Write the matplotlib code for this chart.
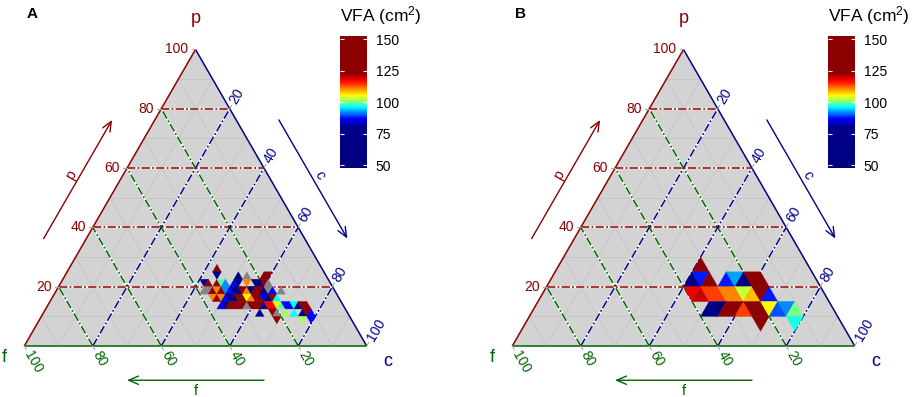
import numpy as np
import matplotlib
matplotlib.use('Agg')
import matplotlib.pyplot as plt
from matplotlib.collections import PolyCollection
from matplotlib.colors import LinearSegmentedColormap, Normalize
from matplotlib.cm import ScalarMappable

plt.rcParams['font.family'] = ['Liberation Sans', 'DejaVu Sans']
plt.rcParams['mathtext.default'] = 'regular'
plt.rcParams['lines.scale_dashes'] = False

# colour scale for VFA (cm2)
cb_values = [47.5, 80, 87, 91, 96, 100.5, 105, 111, 117, 123, 152.5]
cb_colours = ['#00007F', '#00008B', '#0000FF', '#0070FF', '#00FFFF', '#80FF80',
              '#FFFF00', '#FF8000', '#FF0000', '#8B0000', '#8B0000']
cb_ticks = [50, 75, 100, 125, 150]
axis_ticks = [20, 40, 60, 80, 100]
nan = np.nan

# panel A, bins of 2.5 units: row = p bin, step = half cell along the row (even = pointing up)
a_row = [10] * 1 + [9] * 5 + [8] * 12 + [7] * 18 + [6] * 16 + [5] * 21 + [4] * 8 + [3] * 3
a_step = [34,
          35, 40, 42, 46, 47,
          33, 34, 36, 37, 38, 40, 41, 43, 45, 46, 47, 48,
          34, 35, 36, 37, 38, 39, 40, 41, 42, 43, 44, 45, 46, 47, 48, 49, 50, 52,
          37, 38, 39, 40, 41, 42, 43, 44, 45, 46, 47, 48, 49, 50, 51, 52,
          40, 41, 42, 43, 44, 45, 46, 47, 48, 49, 50, 51, 52, 53, 54, 55, 56, 57, 58, 59, 60,
          50, 53, 54, 56, 58, 60, 61, 62,
          55, 61, 63]
a_vfa = [135,
         65, 65, nan, 135, 135,
         65, 135, 135, 99, 92, 87, 65, 111, 65, 65, 135, nan,
         nan, nan, 135, 111, 135, 92, 87, 65, 65, 135, 111, 65, 135, 135, 65, nan, 87, nan,
         111, 135, 111, 87, 65, 65, 135, 135, 105, 111, 135, 135, 87, 65, 135, 96,
         87, 65, 135, 135, 135, 135, nan, 135, 135, 135, 65, 117, 117, 105, 99, 87, 87, 96, 65, 135, 135,
         65, 135, nan, 102, 96, 65, 135, 87,
         135, 102, 87]

# panel B, bins of 5 units
b_row = [5] * 1 + [4] * 8 + [3] * 10 + [2] * 11 + [1] * 2
b_step = [16,
          16, 17, 18, 20, 21, 22, 23, 24,
          17, 18, 19, 20, 21, 22, 23, 24, 25, 26,
          20, 21, 22, 23, 24, 25, 26, 27, 28, 29, 30,
          27, 31]
b_vfa = [135,
         65, 88, 135, 88, 93, 65, 135, 135,
         118, 120, 114, 114, 111, 111, 103, 108, 135, 88,
         65, 65, 135, 135, 114, 135, 135, 105, 90, 92, 100,
         135, 97]

W, H = 917, 397
PX = 3.424        # pixels per ternary unit
BASE_Y = 346      # pixel row of the p = 0 edge
H3 = np.sqrt(3) / 2
PT = 0.72         # points per pixel at dpi 100
DARKRED, DARKBLUE, DARKGREEN = '#8B0000', '#00008B', '#006400'

cmap = LinearSegmentedColormap.from_list(
    'vfa', [((v - cb_values[0]) / (cb_values[-1] - cb_values[0]), c) for v, c in zip(cb_values, cb_colours)])
cmap.set_bad('#858585')
norm = Normalize(cb_values[0], cb_values[-1])


def txy(p, c):
    return c + p / 2.0, p * H3


def tri_polys(rows, steps, d):
    polys = []
    for r, s in zip(rows, steps):
        k = s // 2
        if s % 2 == 0:
            pts = [(r * d, k * d), (r * d, (k + 1) * d), ((r + 1) * d, k * d)]
        else:
            pts = [(r * d, (k + 1) * d), ((r + 1) * d, k * d), ((r + 1) * d, (k + 1) * d)]
        polys.append([txy(p, c) for p, c in pts])
    return polys


def seg(ax, a, b, **kw):
    (x1, y1), (x2, y2) = txy(*a), txy(*b)
    ax.plot([x1, x2], [y1, y2], solid_capstyle='butt', **kw)


def draw_panel(fig, x0, left, right, rows, steps, vfa, d, letter):
    ax = fig.add_axes([left / W, 0, (right - left) / W, 1])
    ax.set_xlim((left - x0) / PX, (right - x0) / PX)
    ax.set_ylim(-(H - BASE_Y) / PX, BASE_Y / PX)
    ax.axis('off')

    ax.fill([0, 100, 50], [0, 0, 100 * H3], color='#D3D3D3', lw=0, zorder=0)
    for v in range(10, 100, 10):
        for a, b in [((v, 0), (v, 100 - v)), ((0, v), (100 - v, v)), ((0, 100 - v), (100 - v, 0))]:
            seg(ax, a, b, color='#C2C2C2', lw=0.5, zorder=1)
    dash = (0, (6, 1.6, 1.3, 1.6))
    for v in axis_ticks[:-1]:
        lines = [((v, 0), (v, 100 - v), DARKRED),
                 ((0, v), (100 - v, v), DARKBLUE),
                 ((0, 100 - v), (100 - v, 0), DARKGREEN)]
        for a, b, col in lines:
            seg(ax, a, b, color='white', lw=1.6, zorder=2)
            seg(ax, a, b, color=col, lw=1.1, ls=dash, zorder=3)

    pc = PolyCollection(tri_polys(rows, steps, d), array=np.ma.masked_invalid(vfa),
                        cmap=cmap, norm=norm, edgecolors='face', linewidths=0.3, zorder=4)
    ax.add_collection(pc)

    seg(ax, (0, 0), (100, 0), color=DARKRED, lw=1.1, zorder=5)
    seg(ax, (0, 100), (100, 0), color=DARKBLUE, lw=1.1, zorder=5)
    seg(ax, (0, 0), (0, 100), color=DARKGREEN, lw=1.1, zorder=5)

    tick = 4 / PX
    for v in axis_ticks:
        # p axis
        x, y = txy(v, 0)
        ax.plot([x, x - tick], [y, y], color='#A8A8A8', lw=0.8, zorder=5)
        ax.annotate(str(v), (x, y), xytext=(-7 * PT, 0), textcoords='offset points',
                    ha='right', va='center', color=DARKRED, fontsize=10)
        # c axis
        x, y = txy(100 - v, v)
        ax.plot([x, x + 0.5 * tick], [y, y + H3 * tick], color='#A8A8A8', lw=0.8, zorder=5)
        ax.annotate(str(v), (x, y), xytext=(0.5 * 7 * PT, H3 * 7 * PT), textcoords='offset points',
                    ha='left', va='center', rotation=60, rotation_mode='anchor',
                    color=DARKBLUE, fontsize=10)
        # f axis
        x, y = txy(0, 100 - v)
        ax.plot([x, x + 0.5 * tick], [y, y - H3 * tick], color='#A8A8A8', lw=0.8, zorder=5)
        ax.annotate(str(v), (x, y), xytext=(0.5 * 7 * PT, -H3 * 7 * PT), textcoords='offset points',
                    ha='left', va='center', rotation=-60, rotation_mode='anchor',
                    color=DARKGREEN, fontsize=10)

    # axis titles at the vertices
    ax.annotate('p', txy(100, 0), xytext=(0, 31 * PT), textcoords='offset points',
                ha='center', va='center', color=DARKRED, fontsize=13)
    ax.annotate('f', txy(0, 0), xytext=(-20 * PT, -12 * PT), textcoords='offset points',
                ha='center', va='center', color=DARKGREEN, fontsize=13)
    ax.annotate('c', txy(0, 100), xytext=(21 * PT, -15 * PT), textcoords='offset points',
                ha='center', va='center', color=DARKBLUE, fontsize=13)

    # direction arrows
    edges = [('p', np.array([0, 0]), np.array([0.5, H3]), np.array([-H3, 0.5]), 10.8, 60, DARKRED),
             ('c', np.array([50, 100 * H3]), np.array([0.5, -H3]), np.array([H3, 0.5]), 10.8, -60, DARKBLUE),
             ('f', np.array([100, 0]), np.array([-1, 0]), np.array([0, -1]), 10.0, 0, DARKGREEN)]
    for name, o, u, n, off, rot, col in edges:
        start = o + 30 * u + off * n
        end = o + 70 * u + off * n
        ax.annotate('', xy=end, xytext=start,
                    arrowprops=dict(arrowstyle='->,head_length=0.7,head_width=0.3',
                                    color=col, lw=1.0, shrinkA=0, shrinkB=0))
        lab = o + 50 * u + (off + (3.0 if name == 'f' else 2.2)) * n
        ax.text(lab[0], lab[1], name, rotation=rot, ha='center', va='center',
                color=col, fontsize=10.5)

    # colour bar
    cb_left = x0 - 24.3 + 340
    cax = fig.add_axes([cb_left / W, 1 - 168.3 / H, 26.7 / W, 132.3 / H])
    cb = fig.colorbar(ScalarMappable(norm=norm, cmap=cmap), cax=cax, ticks=cb_ticks)
    cb.outline.set_visible(False)
    cax.tick_params(direction='in', length=3, width=0.8, color='white', labelsize=10,
                    pad=6.5, left=True, right=True, labelleft=False, labelright=True)
    fig.text(cb_left / W, 1 - 21 / H, 'VFA (cm$^2$)', ha='left', va='baseline', fontsize=12.5)
    fig.text((x0 - 24.3 + 32) / W, 1 - 14 / H, letter, ha='center', va='center',
             fontsize=11, fontweight='bold')


fig = plt.figure(figsize=(W / 100, H / 100), dpi=100)
draw_panel(fig, 24.3, 0, 458, a_row, a_step, a_vfa, 2.5, 'A')
draw_panel(fig, 512.3, 458, 917, b_row, b_step, b_vfa, 5.0, 'B')
fig.savefig('out.png', dpi=100)
